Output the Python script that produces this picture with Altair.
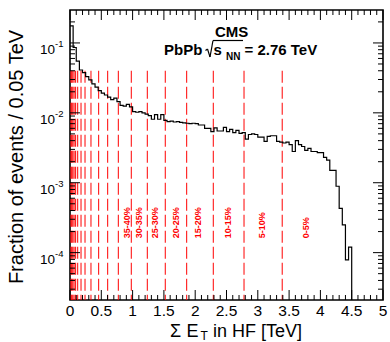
import altair as alt
import pandas as pd
import numpy as np

FONT = "Liberation Sans"
W, H = 313, 290

# ---- data ----
bin_width = 0.05
hist_values = [
    0.175, 0.086, 0.055, 0.041, 0.0377, 0.033, 0.0296, 0.026, 0.0233, 0.0208,
    0.0191, 0.018, 0.0168, 0.0155, 0.0162, 0.0145, 0.0128, 0.0125, 0.0132, 0.0122,
    0.0104, 0.0102, 0.0104, 0.0100, 0.0096, 0.0091, 0.0081, 0.0094, 0.0081, 0.0094,
    0.0078, 0.0075, 0.0076, 0.0074, 0.0075, 0.0073, 0.0072, 0.0071, 0.0070, 0.0071,
    0.0070, 0.0067, 0.0067, 0.0060, 0.0060, 0.0054, 0.0061, 0.0055, 0.0055, 0.0062,
    0.0054, 0.0058, 0.0052, 0.0056, 0.0051, 0.0052, 0.0042, 0.0049, 0.0050, 0.0049,
    0.0045, 0.0045, 0.0039, 0.0046, 0.0047, 0.0047, 0.0039, 0.0038, 0.0037, 0.0038,
    0.0035, 0.0028, 0.0040, 0.0035, 0.0033, 0.0029, 0.0031, 0.0028, 0.0028, 0.0027,
    0.0027, 0.0023, 0.0021, 0.0015, 0.0015, 0.00089, 0.00043, 0.00025, 0.000079, 0.00012,
]
centrality_edges = [0.015, 0.028, 0.045, 0.065, 0.090, 0.123, 0.176, 0.24, 0.335,
                    0.458, 0.602, 0.772, 0.979, 1.235, 1.522, 1.864, 2.289, 2.78, 3.39]
edge_line_top = 0.04
centrality_labels = ["35-40%", "30-35%", "25-30%", "20-25%", "15-20%", "10-15%", "5-10%", "0-5%"]
label_x = [0.91, 1.10, 1.35, 1.69, 2.05, 2.52, 3.07, 3.77]
label_y = 1.6e-4

x_major = [0, 0.5, 1, 1.5, 2, 2.5, 3, 3.5, 4, 4.5, 5]
x_minor = [i / 10 for i in range(51) if i % 5]
y_major = [1e-4, 1e-3, 1e-2, 1e-1]
y_domain = [2.1e-5, 0.296]
y_minor = [m * 10.0 ** k for k in range(-5, 0) for m in range(2, 10)
           if y_domain[0] <= m * 10.0 ** k <= y_domain[1]]

xs = alt.Scale(domain=[0, 5], nice=False, zero=False)
ys = alt.Scale(type="log", domain=y_domain, nice=False)

# ---- histogram as step line ----
n = len(hist_values)
hx = [i * bin_width for i in range(n)] + [n * bin_width]
hy = hist_values + [1e-7]
hist_df = pd.DataFrame({"x": hx, "y": hy})

hist = alt.Chart(hist_df).mark_line(
    interpolate="step-after", color="black", strokeWidth=1.2, clip=True
).encode(
    x=alt.X("x:Q", scale=xs, axis=None),
    y=alt.Y("y:Q", scale=ys, axis=None),
)

# ---- centrality lines ----
edges_df = pd.DataFrame({"x": centrality_edges, "top": [edge_line_top] * len(centrality_edges)})
edges = alt.Chart(edges_df).mark_rule(color="#ff0000", strokeWidth=1, strokeDash=[12, 4]).encode(
    x=alt.X("x:Q", scale=xs, axis=None),
    y=alt.Y("top:Q", scale=ys, axis=None),
    y2=alt.value(H),
)

lab_df = pd.DataFrame({"x": label_x, "y": [label_y] * len(label_x), "t": centrality_labels})
labels = alt.Chart(lab_df).mark_text(
    angle=270, align="left", baseline="middle", color="#ff0000",
    font=FONT, fontSize=9, fontWeight="bold"
).encode(x=alt.X("x:Q", scale=xs, axis=None), y=alt.Y("y:Q", scale=ys, axis=None), text="t:N")

# ---- frame ticks (inside, ROOT style) ----
def xticks(vals, length):
    d = pd.DataFrame({"v": vals})
    b = alt.Chart(d).mark_rule(color="black", strokeWidth=1).encode(
        x=alt.X("v:Q", scale=xs, axis=None), y=alt.value(H), y2=alt.value(H - length))
    t = alt.Chart(d).mark_rule(color="black", strokeWidth=1).encode(
        x=alt.X("v:Q", scale=xs, axis=None), y=alt.value(0), y2=alt.value(length))
    return [b, t]

def yticks(vals, length):
    d = pd.DataFrame({"v": vals})
    l = alt.Chart(d).mark_rule(color="black", strokeWidth=1).encode(
        y=alt.Y("v:Q", scale=ys, axis=None), x=alt.value(0), x2=alt.value(length))
    r = alt.Chart(d).mark_rule(color="black", strokeWidth=1).encode(
        y=alt.Y("v:Q", scale=ys, axis=None), x=alt.value(W), x2=alt.value(W - length))
    return [l, r]

tick_layers = xticks(x_major, 10) + xticks(x_minor, 5) + yticks(y_major, 10) + yticks(y_minor, 5)

# ---- x tick labels ----
xlab_df = pd.DataFrame({"v": x_major, "t": [f"{v:g}" for v in x_major]})
xlab = alt.Chart(xlab_df).mark_text(
    align="center", baseline="alphabetic", font=FONT, fontSize=15.5, color="black"
).encode(x=alt.X("v:Q", scale=xs, axis=None), y=alt.value(H + 15.5), text="t:N")

# ---- y tick labels 10^n ----
ylab_df = pd.DataFrame({"v": y_major, "e": [str(int(round(np.log10(v)))) for v in y_major]})
ylab_base = alt.Chart(ylab_df).mark_text(
    align="right", baseline="middle", font=FONT, fontSize=13.5, dy=7, color="black"
).encode(y=alt.Y("v:Q", scale=ys, axis=None), x=alt.value(-15), text=alt.value("10"))
ylab_exp = alt.Chart(ylab_df).mark_text(
    align="left", baseline="middle", font=FONT, fontSize=9.5, dy=1, color="black"
).encode(y=alt.Y("v:Q", scale=ys, axis=None), x=alt.value(-15), text="e:N")

# ---- titles and annotations ----
def txt(s, x, y, size, bold=False, align="left", baseline="alphabetic", angle=None):
    kw = dict(align=align, baseline=baseline, font=FONT, fontSize=size, color="black")
    if bold:
        kw["fontWeight"] = "bold"
    if angle is not None:
        kw["angle"] = angle
    return alt.Chart(pd.DataFrame({"t": [s]})).mark_text(**kw).encode(
        x=alt.value(x), y=alt.value(y), text="t:N")

def seg(x1, y1, x2, y2, w=1.2):
    return alt.Chart(pd.DataFrame({"a": [0]})).mark_rule(color="black", strokeWidth=w).encode(
        x=alt.value(x1), y=alt.value(y1), x2=alt.value(x2), y2=alt.value(y2))

ytitle = txt("Fraction of events / 0.05 TeV", -53, 147, 20, align="center", baseline="middle", angle=270)
xt1 = txt("Σ", 100, 326.7, 18)
xt2 = txt("E", 116.5, 326.7, 18)
xt3 = txt("T", 130.5, 330, 12)
xt4 = txt("in HF [TeV]", 143, 326.7, 18)

cms = txt("CMS", 161.7, 26.7, 15, bold=True, align="center")
pbpb = txt("PbPb", 94, 45, 15, bold=True)
s_txt = txt("s", 143.5, 45, 15, bold=True)
nn_txt = txt("NN", 156, 50, 10, bold=True)
eq_txt = txt("= 2.76 TeV", 174.5, 45, 15, bold=True)
radical = [
    seg(135.5, 40.5, 137.5, 39),
    seg(137.5, 39, 140, 47),
    seg(140, 47, 143, 30.5),
    seg(143, 30.5, 173, 30.5),
]

chart = alt.layer(
    edges, hist, labels, *tick_layers, xlab, ylab_base, ylab_exp,
    ytitle, xt1, xt2, xt3, xt4, cms, pbpb, s_txt, nn_txt, eq_txt, *radical
).properties(
    width=W, height=H,
    padding={"left": 70, "top": 10, "right": 7, "bottom": 42},
    autosize="none",
).configure_view(stroke="black", strokeWidth=1.6)

chart.save("out.html", embed_options={"renderer": "svg", "actions": False})
